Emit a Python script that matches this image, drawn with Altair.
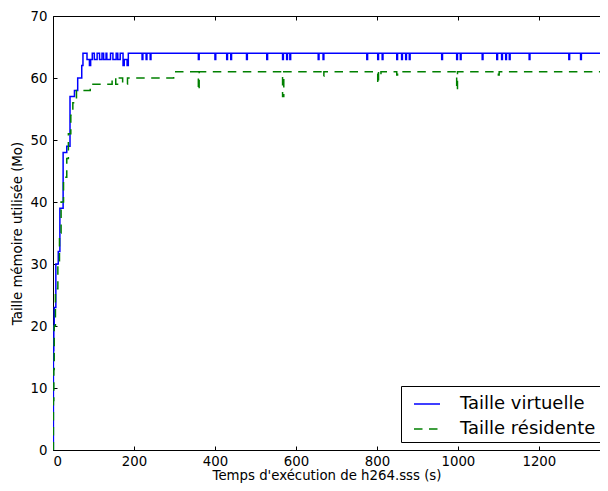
import altair as alt
import pandas as pd

series_names = ["Taille virtuelle", "Taille résidente"]

# Taille virtuelle (Mo) - step points (time s, value)
virt_t = [0, 1, 2, 3, 7, 13, 17, 25, 34, 42, 53, 61, 71, 74,
          84, 90, 93, 97, 102, 109, 115, 121, 125, 131, 133, 142, 148, 156,
          160, 166, 173, 176, 183, 186,
          220, 222, 230, 232, 240, 242, 359, 361, 400, 402, 429, 431, 439, 441,
          478, 480, 528, 530, 567, 569, 577, 579, 585, 587, 655, 657, 667, 669,
          775, 777, 802, 804, 813, 815, 849, 851, 861, 863, 871, 873, 880, 882,
          960, 962, 997, 999, 1006, 1008, 1060, 1062, 1096, 1098, 1108, 1110,
          1118, 1120, 1127, 1129, 1176, 1178, 1274, 1276, 1303, 1305, 1372]
virt_v = [0, 16, 20, 23, 30, 32, 39, 48, 49, 57, 58, 60, 62, 64,
          63, 62, 63, 64, 63, 64, 63, 64, 63, 64, 63, 64, 63, 64,
          63, 64, 62, 63, 62, 64,
          63, 64, 63, 64, 63, 64, 63, 64, 63, 64, 63, 64, 63, 64,
          63, 64, 63, 64, 63, 64, 63, 64, 63, 64, 63, 64, 63, 64,
          63, 64, 63, 64, 63, 64, 63, 64, 63, 64, 63, 64, 63, 64,
          63, 64, 63, 64, 63, 64, 63, 64, 63, 64, 63, 64,
          63, 64, 63, 64, 63, 64, 63, 64, 63, 64, 64]

# Taille résidente (Mo)
res_t = [0, 1, 2, 3, 6, 12, 16, 20, 26, 34, 38, 44, 49, 58, 72, 92,
         146, 155, 162, 172, 184, 298, 359, 361, 567, 570, 667, 669,
         802, 804, 808, 810, 849, 851, 997, 999, 1100, 1102, 1372]
res_v = [0, 8, 13, 20, 26, 30, 35, 40, 44, 47, 51, 54, 56, 58, 58, 59,
         60, 59, 60, 59, 60, 61, 58, 61, 57, 61, 60.3, 61,
         59, 61, 60.5, 61, 60.5, 61, 58, 61, 60.5, 61, 61]

x_ticks = [0, 200, 400, 600, 800, 1000, 1200]
y_ticks = [0, 10, 20, 30, 40, 50, 60, 70]

df = pd.concat([
    pd.DataFrame({"t": virt_t, "v": virt_v, "series": series_names[0]}),
    pd.DataFrame({"t": res_t, "v": res_v, "series": series_names[1]}),
], ignore_index=True)

W, H = 547, 434
FONT = "DejaVu Sans"
xs = alt.Scale(domain=[0, 1351], nice=False, zero=False)
ys = alt.Scale(domain=[0, 70], nice=False)
leg = alt.Legend(labelExpr="datum.label + '  '")

lines = alt.Chart(df).mark_line(interpolate="step-after", strokeWidth=1.5, clip=True).encode(
    x=alt.X("t:Q", scale=xs, axis=alt.Axis(
        title="Temps d'exécution de h264.sss (s)", values=x_ticks, format="d", ticks=False, tickSize=0,
        labelPadding=4, titlePadding=1, grid=False, orient="bottom")),
    y=alt.Y("v:Q", scale=ys, axis=alt.Axis(
        title="Taille mémoire utilisée (Mo)", values=y_ticks, ticks=False, tickSize=0,
        labelPadding=6, titlePadding=6, grid=False, orient="left")),
    color=alt.Color("series:N", scale=alt.Scale(domain=series_names, range=["#0000ff", "#008000"]),
                    title=None, sort=series_names, legend=leg),
    strokeDash=alt.StrokeDash("series:N", scale=alt.Scale(domain=series_names, range=[[1, 0], [8.5, 6.5]]),
                              title=None, sort=series_names, legend=leg),
    detail="series:N",
)

# inward ticks on bottom + left edges
ticks_in = alt.Chart(df).mark_line(opacity=0).encode(
    x=alt.X("t:Q", scale=xs, axis=alt.Axis(orient="top", offset=-H, values=x_ticks, labels=False,
                                           domain=False, tickSize=4, title=None, grid=False)),
    y=alt.Y("v:Q", scale=ys, axis=alt.Axis(orient="right", offset=-W, values=y_ticks, labels=False,
                                           domain=False, tickSize=4, title=None, grid=False)),
    detail="series:N",
)

# top spine with inward ticks
spines = alt.Chart(df).mark_line(opacity=0).encode(
    x=alt.X("t:Q", scale=xs, axis=alt.Axis(orient="bottom", offset=-H, values=x_ticks, labels=False,
                                           domain=True, tickSize=4, title=None, grid=False)),
    y=alt.Y("v:Q", scale=ys, axis=None),
    detail="series:N",
)

chart = alt.layer(lines, ticks_in, spines).resolve_axis(
    x="independent", y="independent"
).properties(
    width=W, height=H,
    autosize=alt.AutoSizeParams(type="none"),
    padding={"left": 45, "top": 8, "right": 0, "bottom": 33},
).configure(
    font=FONT,
).configure_view(
    stroke=None,
).configure_axis(
    labelFont=FONT, titleFont=FONT, labelFontSize=13.3, titleFontSize=13.3,
    titleFontWeight="normal", labelColor="black", titleColor="black",
    domainColor="black", tickColor="black", domainWidth=1, tickWidth=1,
).configure_legend(
    orient="none", legendX=348, legendY=370,
    fillColor="white", strokeColor="black", padding=4, cornerRadius=0,
    labelFont=FONT, labelFontSize=18, labelColor="black", labelOffset=19,
    symbolType="stroke", symbolSize=676, symbolStrokeWidth=1.5, symbolOffset=8,
    rowPadding=2,
)

chart.save("out.html", embed_options={"renderer": "svg", "actions": False})
